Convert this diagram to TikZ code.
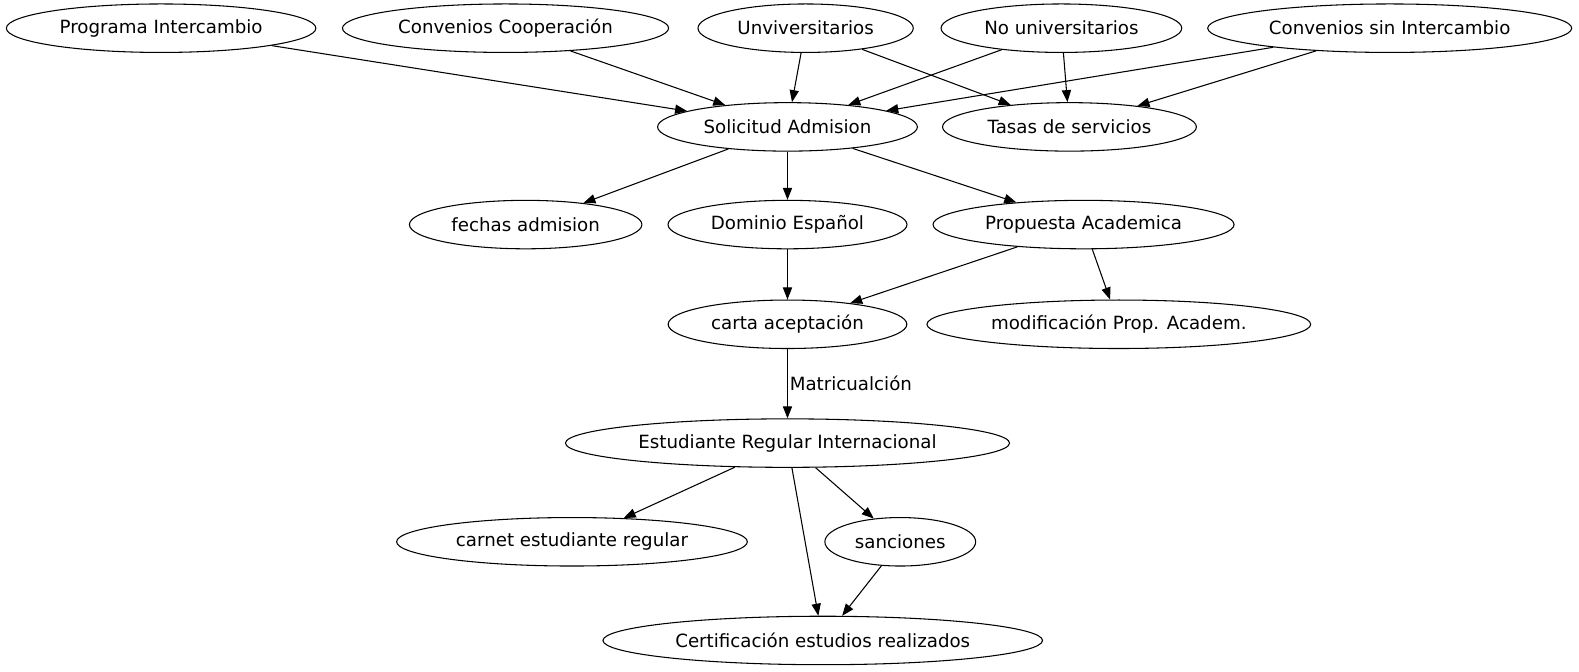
\documentclass[tikz,border=0pt]{standalone}
\usepackage{fontspec}
\setmainfont{DejaVu Sans}
\usetikzlibrary{shapes.geometric,arrows.meta}
\tikzset{
  box/.style={draw, ellipse, line width=0.6pt, inner xsep=4.5pt, minimum height=27.4pt, font=\fontsize{10.3}{12}\selectfont},
  link/.style={draw, line width=0.6pt, -{Triangle[length=6.8pt,width=5.2pt]}}
}
\begin{document}
\begin{tikzpicture}[x=0.02cm,y=-0.02cm]
        \useasboundingbox (0,0) rectangle (1568,667);
        % top row
        \node[box] (prog) at (160,28) {Programa Intercambio};
        \node[box] (coop) at (502,28) {Convenios Cooperación};
        \node[box] (univ) at (800,28) {Unviversitarios};
        \node[box] (nouniv) at (1054,28) {No universitarios};
        \node[box] (sinint) at (1380,28) {Convenios sin Intercambio};
        % second row
        \node[box] (solic) at (782,126) {Solicitud Admision};
        \node[box] (tasas) at (1062,126) {Tasas de servicios};
        % third row
        \node[box] (fechas) at (522,223) {fechas admision};
        \node[box] (domin) at (782,223) {Dominio Español};
        \node[box] (prop) at (1076,223) {Propuesta Academica};
        % fourth row
        \node[box] (carta) at (782,322) {carta aceptación};
        \node[box] (modif) at (1111,322) {modificación Prop. Academ.};
        % lower part
        \node[box] (estud) at (782,440) {Estudiante Regular Internacional};
        \node[box] (carnet) at (568,538) {carnet estudiante regular};
        \node[box] (sanc) at (894,538) {sanciones};
        \node[box] (certif) at (817,636) {Certificación estudios realizados};
        \draw[link] (prog)--(solic);
        \draw[link] (coop)--(solic);
        \draw[link] (univ)--(solic);
        \draw[link] (univ)--(tasas);
        \draw[link] (nouniv)--(solic);
        \draw[link] (nouniv)--(tasas);
        \draw[link] (sinint)--(solic);
        \draw[link] (sinint)--(tasas);
        \draw[link] (solic)--(fechas);
        \draw[link] (solic)--(domin);
        \draw[link] (solic)--(prop);
        \draw[link] (domin)--(carta);
        \draw[link] (prop)--(carta);
        \draw[link] (prop)--(modif);
        \draw[link] (carta)-- node[right, inner sep=1pt, font=\fontsize{10.3}{12}\selectfont] (matric) {Matricualción} (estud);
        \draw[link] (estud)--(carnet);
        \draw[link] (estud)--(certif);
        \draw[link] (estud)--(sanc);
        \draw[link] (sanc)--(certif);
      \end{tikzpicture}
\end{document}
